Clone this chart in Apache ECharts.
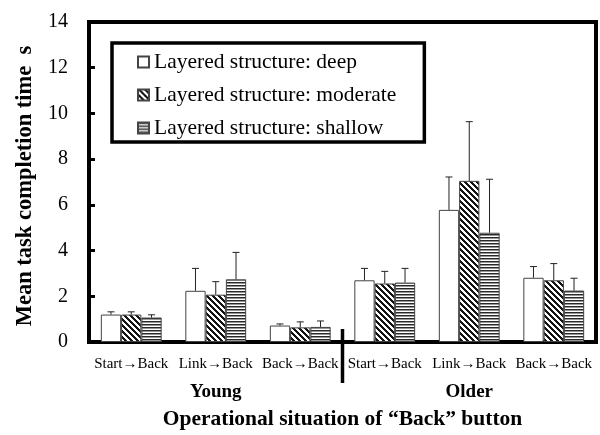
<!DOCTYPE html>
<html>
<head>
<meta charset="utf-8">
<script src="https://cdn.jsdelivr.net/npm/echarts@6/dist/echarts.min.js"></script>
<style>
  html, body { margin: 0; padding: 0; background: #fff; }
  #main { width: 600px; height: 435px; }
</style>
</head>
<body>
<div id="main"></div>
<script>
var situations = ['Start\u2192Back', 'Link\u2192Back', 'Back\u2192Back', 'Start\u2192Back', 'Link\u2192Back', 'Back\u2192Back'];
var ageGroups = ['Young', 'Older'];
var seriesNames = ['Layered structure: deep', 'Layered structure: moderate', 'Layered structure: shallow'];

// mean task completion time (s)
var deepMean = [1.20, 2.24, 0.72, 2.70, 5.78, 2.81];
var moderateMean = [1.20, 2.07, 0.64, 2.56, 7.05, 2.70];
var shallowMean = [1.07, 2.74, 0.66, 2.60, 4.78, 2.25];
// standard deviation (upper error bar)
var deepErr = [0.12, 0.98, 0.07, 0.52, 1.44, 0.49];
var moderateErr = [0.12, 0.57, 0.24, 0.53, 2.59, 0.73];
var shallowErr = [0.12, 1.18, 0.26, 0.62, 2.34, 0.54];

var FONT = 'Liberation Serif';
var CAT_GAP = 0.28;

function makePattern(size, fn) {
  var c = document.createElement('canvas');
  c.width = size[0];
  c.height = size[1];
  var ctx = c.getContext('2d');
  var img = ctx.createImageData(size[0], size[1]);
  for (var y = 0; y < size[1]; y++) {
    for (var x = 0; x < size[0]; x++) {
      var v = fn(x, y);
      var k = (y * size[0] + x) * 4;
      img.data[k] = v; img.data[k + 1] = v; img.data[k + 2] = v; img.data[k + 3] = 255;
    }
  }
  ctx.putImageData(img, 0, 0);
  return c;
}

var diagPattern = makePattern([6, 6], function (x, y) {
  return ((x - y + 6) % 6) < 3 ? 20 : 255;
});
var horizPattern = makePattern([4, 3], function (x, y) {
  return y === 0 ? 40 : (y === 1 ? 150 : 255);
});

var fills = [
  '#ffffff',
  { image: diagPattern, repeat: 'repeat' },
  { image: horizPattern, repeat: 'repeat' }
];
var means = [deepMean, moderateMean, shallowMean];
var errs = [deepErr, moderateErr, shallowErr];

function errorRender(s) {
  return function (params, api) {
    var cat = api.value(0);
    var m = api.value(1);
    var e = api.value(2);
    var base = api.coord([cat, m]);
    var top = api.coord([cat, m + e]);
    var band = api.size([1, 0])[0];
    var bw = band * (1 - CAT_GAP) / 3;
    var x = base[0] + (s - 1) * bw;
    var st = { stroke: '#222', lineWidth: 1 };
    return {
      type: 'group',
      children: [
        { type: 'line', shape: { x1: x, y1: base[1], x2: x, y2: top[1] }, style: st },
        { type: 'line', shape: { x1: x - 3.5, y1: top[1], x2: x + 3.5, y2: top[1] }, style: st }
      ]
    };
  };
}

var series = [];
for (var s = 0; s < 3; s++) {
  series.push({
    name: seriesNames[s],
    type: 'bar',
    barGap: 0,
    barCategoryGap: (CAT_GAP * 100) + '%',
    itemStyle: { color: fills[s], borderColor: '#444', borderWidth: 1 },
    data: means[s],
    z: 2
  });
}
for (var s2 = 0; s2 < 3; s2++) {
  var d = [];
  for (var i = 0; i < situations.length; i++) {
    d.push([i, means[s2][i], errs[s2][i]]);
  }
  series.push({
    type: 'custom',
    renderItem: errorRender(s2),
    data: d,
    z: 3,
    silent: true
  });
}

var myChart = echarts.init(document.getElementById('main'));
var option = {
  animation: false,
  textStyle: { fontFamily: FONT, color: '#000' },
  grid: {
    left: 89, right: 4, top: 22, bottom: 88,
    show: true, borderColor: '#000', borderWidth: 4, backgroundColor: 'transparent'
  },
  legend: {
    orient: 'vertical',
    left: 112,
    top: 43,
    padding: [8, 28, 3, 25],
    borderColor: '#000',
    borderWidth: 3.5,
    itemWidth: 11,
    itemHeight: 11,
    itemGap: 11,
    icon: 'rect',
    data: seriesNames,
    textStyle: { fontFamily: FONT, fontSize: 21.5, lineHeight: 21, color: '#000' },
    selectedMode: false
  },
  xAxis: [{
    type: 'category',
    data: situations,
    position: 'bottom',
    axisLine: { lineStyle: { color: '#000', width: 4 } },
    axisTick: { show: false },
    axisLabel: { fontFamily: FONT, fontSize: 15, color: '#000', margin: 15, interval: 0 }
  }, {
    type: 'category',
    data: ageGroups,
    position: 'bottom',
    axisLine: { show: false },
    axisTick: { show: false },
    axisLabel: { fontFamily: FONT, fontSize: 19, fontWeight: 'bold', color: '#000', margin: 41 },
    name: 'Operational situation of \u201cBack\u201d button',
    nameLocation: 'middle',
    nameGap: 66,
    nameTextStyle: { fontFamily: FONT, fontSize: 21.5, fontWeight: 'bold', color: '#000' }
  }],
  yAxis: {
    type: 'value',
    min: 0,
    max: 14,
    interval: 2,
    name: 'Mean task completion time  s',
    nameLocation: 'middle',
    nameGap: 52,
    nameTextStyle: { fontFamily: FONT, fontSize: 22.5, fontWeight: 'bold', color: '#000', padding: [0, 8, 0, 0] },
    axisLine: { show: true, lineStyle: { color: '#000', width: 4 } },
    axisTick: { show: true, inside: true, length: 6, lineStyle: { color: '#000', width: 3 } },
    axisLabel: { fontFamily: FONT, fontSize: 20, color: '#000', margin: 21 },
    splitLine: { show: false }
  },
  series: series
};
myChart.setOption(option);

// separator between the Young and Older groups
var pA = myChart.convertToPixel({ xAxisIndex: 0, yAxisIndex: 0 }, [2, 0]);
var pB = myChart.convertToPixel({ xAxisIndex: 0, yAxisIndex: 0 }, [3, 0]);
var sepX = (pA[0] + pB[0]) / 2;
myChart.setOption({
  graphic: [{
    type: 'line',
    shape: { x1: sepX, y1: pA[1] - 13, x2: sepX, y2: pA[1] + 41 },
    style: { stroke: '#000', lineWidth: 3.5 },
    z: 10
  }]
});
</script>
</body>
</html>
